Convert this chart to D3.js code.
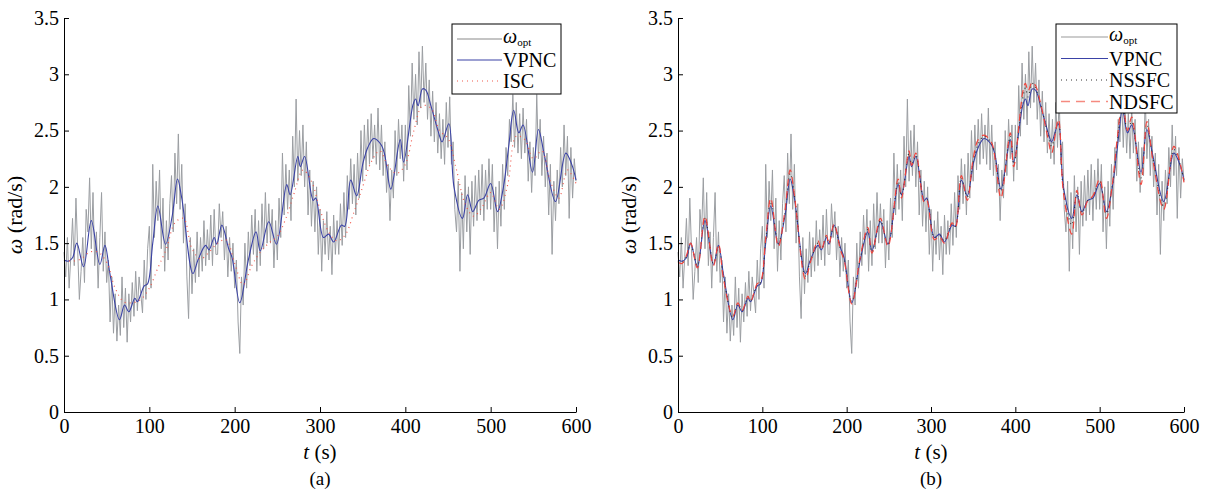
<!DOCTYPE html>
<html>
<head>
<meta charset="utf-8">
<script src="https://cdn.jsdelivr.net/npm/d3@7"></script>
<style>
  body { margin: 0; background: #fff; }
  svg text { font-family: "Liberation Serif", "DejaVu Serif", serif; }
  .axis path, .axis line { stroke: #000; stroke-width: 1; }
  .axis text { font-size: 20px; fill: #000; }
</style>
</head>
<body>
<div id="chart"></div>
<script>
// ---- data ----
var xTicks = [0, 100, 200, 300, 400, 500, 600];
var yTicks = [0, 0.5, 1, 1.5, 2, 2.5, 3, 3.5];

// omega_opt, sampled every 2 s from t = 0 to 600
var optStep = 2;
var optV = [
  1.42,1.20,1.55,1.10,1.38,1.72,1.30,1.90,1.45,1.00,
  1.25,1.55,1.15,1.80,1.60,2.08,1.45,1.95,1.30,1.60,
  1.10,1.55,1.95,1.25,1.60,1.15,1.35,0.80,1.20,0.70,
  1.05,0.63,0.95,0.68,1.20,0.75,1.10,0.62,1.05,0.80,
  1.15,0.85,1.25,0.90,1.20,1.05,0.88,1.35,1.00,1.45,
  1.65,1.10,2.20,1.55,2.05,1.70,2.15,1.45,1.90,1.25,
  1.70,1.35,1.85,2.10,1.60,2.30,1.85,2.47,1.80,2.20,
  1.50,1.85,1.20,0.83,1.55,1.05,1.45,1.15,1.60,1.20,
  1.55,1.25,1.70,1.30,1.62,1.35,1.75,1.30,1.80,1.40,
  1.40,1.85,1.55,1.78,1.35,1.65,1.20,1.55,1.25,1.50,
  1.10,1.35,0.80,0.52,1.20,0.95,1.50,1.10,1.60,1.30,
  1.75,1.40,1.80,1.25,1.70,1.30,1.85,1.45,1.95,1.50,
  1.85,1.50,1.80,1.28,1.70,1.35,1.90,1.55,2.30,1.75,
  2.20,1.80,2.15,1.70,2.45,2.00,2.78,2.05,2.50,2.10,
  2.55,2.00,2.40,1.75,2.15,1.65,2.05,1.60,2.00,1.40,
  1.80,1.25,1.70,1.40,1.78,1.35,1.65,1.22,1.75,1.40,
  1.70,1.40,1.85,1.48,1.95,1.55,2.10,1.80,2.25,1.85,
  2.20,1.75,2.30,1.90,2.50,2.05,2.55,2.15,2.60,2.20,
  2.65,2.25,2.55,2.20,2.70,2.15,2.55,2.10,2.40,1.95,
  2.20,1.70,2.15,1.90,2.50,2.10,2.60,2.25,2.55,2.05,
  2.55,2.15,2.90,2.45,3.10,2.60,3.00,2.55,3.20,2.70,
  3.25,2.75,3.10,2.60,2.95,2.45,2.85,2.40,2.75,2.30,
  2.65,2.25,2.60,2.20,2.75,2.35,2.80,2.20,2.40,1.80,
  1.60,2.05,1.25,1.95,1.45,2.10,1.60,2.00,1.40,2.05,
  1.65,2.10,1.70,2.15,1.75,2.20,1.70,2.15,1.80,2.25,
  1.80,2.20,1.60,2.00,1.45,2.05,1.65,2.20,1.80,2.35,
  2.10,2.60,2.40,2.82,2.35,2.75,2.30,2.65,2.25,2.70,
  2.30,2.60,2.05,2.40,1.95,2.35,2.10,2.82,2.25,2.60,
  2.10,2.45,2.00,2.30,1.75,2.20,1.40,2.05,1.70,2.15,
  1.85,2.35,2.00,2.55,2.10,2.45,1.72,2.35,1.90,2.25,
  2.05
];

// controller curves, read at turning points
var ctrlT = [0,5,10,15,23,32,42,48,54,65,71,76,83,86,94,98,104,110,119,127,
  133,138,151,157,166,170,176,179,185,193,197,206,216,225,230,240,249,261,265,274,
  277,282,292,295,304,310,316,325,329,336,343,350,356,363,372,376,383,394,398,409,
  412,415,420,424,430,439,443,451,457,467,473,479,486,492,500,508,515,521,527,533,
  538,549,556,563,576,588,595,600];
var vpncV = [1.35,1.34,1.37,1.50,1.29, 1.70,1.31,1.48,1.22,0.82, 0.95,0.89,1.01,0.98,1.12,
  1.14,1.50,1.83,1.49,1.75, 2.07,1.90,1.23,1.35,1.48, 1.44,1.55,1.49,1.66,1.45,
  1.37,0.97,1.35,1.60,1.43, 1.69,1.49,2.02,1.93,2.27, 2.18,2.27,1.88,1.90,1.55,
  1.58,1.51,1.66,1.65,2.06, 1.92,2.20,2.35,2.43,2.37, 2.28,1.98,2.42,2.22,2.73,
  2.78,2.72,2.87,2.86,2.72, 2.48,2.40,2.56,2.00,1.72, 1.93,1.78,1.88,1.90,2.03,
  1.78,2.00,2.35,2.68,2.48, 2.55,2.13,2.51,2.28,1.87, 2.30,2.20,2.06];
var nssfcV = [1.34,1.33,1.38,1.49,1.30, 1.72,1.32,1.47,1.20,0.84, 0.96,0.90,1.02,0.99,1.13,
  1.15,1.52,1.87,1.50,1.77, 2.12,1.92,1.21,1.34,1.50, 1.45,1.56,1.50,1.66,1.44,
  1.36,0.98,1.36,1.62,1.42, 1.70,1.48,2.05,1.92,2.30, 2.20,2.28,1.87,1.89,1.55,
  1.57,1.52,1.67,1.65,2.08, 1.91,2.22,2.38,2.45,2.38, 2.27,1.96,2.45,2.20,2.80,
  2.88,2.80,2.92,2.88,2.73, 2.46,2.36,2.58,1.98,1.66, 1.95,1.77,1.88,1.91,2.05,
  1.76,2.01,2.40,2.72,2.50, 2.58,2.08,2.55,2.26,1.83, 2.33,2.21,2.05];
var ndsfcV = [1.33,1.32,1.39,1.50,1.28, 1.74,1.30,1.49,1.18,0.85, 0.97,0.90,1.03,0.98,1.14,
  1.16,1.54,1.90,1.47,1.80, 2.15,1.93,1.18,1.33,1.52, 1.44,1.57,1.49,1.67,1.43,
  1.35,0.96,1.37,1.64,1.41, 1.72,1.47,2.07,1.90,2.32, 2.19,2.30,1.86,1.88,1.53,
  1.56,1.50,1.68,1.64,2.10, 1.88,2.25,2.42,2.46,2.39, 2.25,1.90,2.48,2.18,2.85,
  2.92,2.85,2.93,2.90,2.74, 2.42,2.30,2.60,1.95,1.58, 1.97,1.75,1.88,1.92,2.07,
  1.72,2.02,2.44,2.75,2.50, 2.62,2.02,2.58,2.24,1.80, 2.36,2.22,2.04];

// ISC, every 10 s
var iscT = d3.range(0, 601, 10);
var iscV = [1.35,1.34,1.36,1.42,1.42,1.33,1.10,0.98,0.97,1.00,
  1.10,1.28,1.45,1.68,1.72,1.45,1.36,1.42,1.50,1.53,
  1.32,1.13,1.30,1.42,1.50,1.56,1.72,1.95,2.15,2.05,
  1.80,1.60,1.52,1.58,1.78,2.00,2.22,2.32,2.18,2.12,
  2.20,2.50,2.72,2.70,2.50,2.43,2.15,1.85,1.74,1.82,
  1.95,1.80,2.02,2.45,2.42,2.25,2.32,2.05,1.90,2.15,
  2.03];

// ---- layout ----
var W = 1205, H = 496;
var serif = "'Liberation Serif', 'DejaVu Serif', serif";
var svg = d3.select("#chart").append("svg").attr("width", W).attr("height", H);

var optPts = optV.map(function(v, i) { return [i * optStep, v]; });
function zip(t, v) { return t.map(function(d, i) { return [d, v[i]]; }); }

function panel(x0, x1, label, series, legend) {
  var top = 18, bottom = 412;
  var x = d3.scaleLinear().domain([0, 600]).range([x0, x1]);
  var y = d3.scaleLinear().domain([0, 3.5]).range([bottom, top]);
  var g = svg.append("g");

  var line = d3.line().x(function(d) { return x(d[0]); }).y(function(d) { return y(d[1]); });

  series.forEach(function(s) {
    g.append("path")
      .datum(s.data)
      .attr("fill", "none")
      .attr("stroke", s.color)
      .attr("stroke-width", s.width)
      .attr("stroke-dasharray", s.dash || null)
      .attr("d", line.curve(s.curve || d3.curveLinear));
  });

  g.append("g").attr("class", "axis")
    .attr("transform", "translate(0," + bottom + ")")
    .call(d3.axisBottom(x).tickValues(xTicks).tickSizeInner(-5).tickSizeOuter(0).tickPadding(4))
    .attr("font-family", serif)
    .selectAll("text").attr("dy", "0.85em");

  g.append("g").attr("class", "axis")
    .attr("transform", "translate(" + x0 + ",0)")
    .call(d3.axisLeft(y).tickValues(yTicks).tickSizeInner(-5).tickSizeOuter(0).tickPadding(5)
      .tickFormat(function(d) { return String(d); }))
    .attr("font-family", serif);

  var cx = (x0 + x1) / 2;
  var xt = g.append("text").attr("x", cx).attr("y", 459).attr("text-anchor", "middle")
    .attr("font-size", 21);
  xt.append("tspan").attr("font-style", "italic").text("t");
  xt.append("tspan").text(" (s)");

  g.append("text").attr("x", cx).attr("y", 485).attr("text-anchor", "middle")
    .attr("font-size", 19).text(label);

  var yt = g.append("text")
    .attr("transform", "translate(" + (x0 - 42) + "," + ((top + bottom) / 2) + ") rotate(-90)")
    .attr("text-anchor", "middle").attr("font-size", 22);
  yt.append("tspan").attr("font-style", "italic").text("ω");
  yt.append("tspan").text(" (rad/s)");

  // legend
  var lg = g.append("g");
  lg.append("rect").attr("x", legend.x).attr("y", legend.y)
    .attr("width", legend.w).attr("height", legend.h)
    .attr("fill", "#fff").attr("stroke", "#000").attr("stroke-width", 1);
  legend.rows.forEach(function(r, i) {
    var ry = legend.y + legend.first + i * legend.gap;
    lg.append("line").attr("x1", legend.x + 5).attr("x2", legend.x + legend.lineW)
      .attr("y1", ry).attr("y2", ry)
      .attr("stroke", r.color).attr("stroke-width", r.width)
      .attr("stroke-dasharray", r.dash || null);
    var t = lg.append("text").attr("x", legend.x + legend.lineW + 1).attr("y", ry + 7)
      .attr("font-size", 20);
    if (r.name === "opt") {
      t.attr("y", ry + 4);
      t.append("tspan").attr("font-style", "italic").text("ω");
      t.append("tspan").attr("font-size", 11).attr("dy", 3).text("opt");
    } else {
      t.text(r.name);
    }
  });
}

var optS = { data: optPts, color: "#9b9ea2", width: 1 };
var vpncS = { data: zip(ctrlT, vpncV), color: "#3a42a6", width: 1.1, curve: d3.curveCatmullRom };

panel(64, 576, "(a)", [
  optS,
  vpncS,
  { data: zip(iscT, iscV), color: "#f0584c", width: 1.2, dash: "1,4", curve: d3.curveCatmullRom }
], {
  x: 452, y: 24, w: 109, h: 70, first: 15, gap: 21, lineW: 50,
  rows: [
    { name: "opt", color: "#b0b0b0", width: 1.5 },
    { name: "VPNC", color: "#3a42a6", width: 1.2 },
    { name: "ISC", color: "#f0584c", width: 1.2, dash: "1,4" }
  ]
});

panel(678, 1184, "(b)", [
  optS,
  vpncS,
  { data: zip(ctrlT, nssfcV), color: "#333", width: 1.2, dash: "1,4", curve: d3.curveCatmullRom },
  { data: zip(ctrlT, ndsfcV), color: "#f0443c", width: 1.2, dash: "7,5", curve: d3.curveCatmullRom }
], {
  x: 1056, y: 24, w: 121, h: 89, first: 13, gap: 21.5, lineW: 52,
  rows: [
    { name: "opt", color: "#999", width: 1.2 },
    { name: "VPNC", color: "#3a42a6", width: 1.2 },
    { name: "NSSFC", color: "#333", width: 1.2, dash: "1,4" },
    { name: "NDSFC", color: "#f58a80", width: 1.5, dash: "9,6" }
  ]
});
</script>
</body>
</html>
